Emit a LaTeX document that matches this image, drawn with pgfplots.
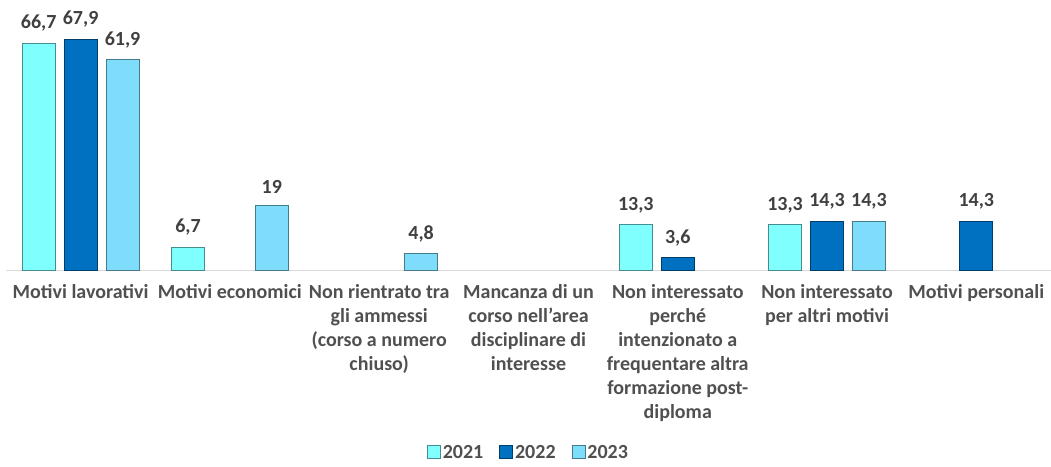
\documentclass[border=0pt]{standalone}
\usepackage{pgfplots}
\pgfplotsset{compat=1.18}
\usepackage{fontspec}
\setmainfont{Carlito}
\newfontfamily\cbold{Carlito Bold}
\definecolor{cA}{HTML}{80FFFF}
\definecolor{cB}{HTML}{0070C0}
\definecolor{cC}{HTML}{7DDDFA}
\definecolor{txt}{HTML}{404040}
\definecolor{lbl}{HTML}{505050}
\pgfplotstableread{
x y
-0.281 66.7
0.719 6.7
3.719 13.3
4.719 13.3
}\tA
\pgfplotstableread{
x y
0 67.9
4 3.6
5 14.3
6 14.3
}\tB
\pgfplotstableread{
x y
0.281 61.9
1.281 19
2.281 4.8
5.281 14.3
}\tC
\begin{document}
\begin{tikzpicture}
\useasboundingbox (0,0) rectangle (1051pt,466pt);
\begin{axis}[
  at={(6pt,196pt)}, anchor=south west,
  scale only axis, width=1045pt, height=270pt,
  ymin=0, ymax=79.4, xmin=-0.5, xmax=6.5,
  ybar, bar width=0.221, bar shift=0pt,
  axis x line*=bottom, axis y line=none,
  x axis line style={draw=black!15, line width=1pt, -},
  xtick={0,...,6}, xtick style={draw=none},
  xticklabels={
    Motivi lavorativi,
    Motivi economici,
    {Non rientrato tra\\gli ammessi\\(corso a numero\\chiuso)},
    {Mancanza di un\\corso nell’area\\disciplinare di\\interesse},
    {Non interessato\\perché\\intenzionato a\\frequentare altra\\formazione post-\\diploma},
    {Non interessato\\per altri motivi},
    Motivi personali},
  xticklabel style={align=center, text=lbl, font=\cbold\fontsize{20}{24}\selectfont, anchor=north, yshift=-7pt},
  nodes near coords,
  nodes near coords style={text=txt, font=\cbold\fontsize{20}{24}\selectfont, yshift=8pt},
  /pgf/number format/fixed, /pgf/number format/precision=1, /pgf/number format/use comma,
  /pgf/number format/assume math mode=true,
  legend style={at={(0.5,-0.675)}, anchor=center, draw=none, legend columns=3,
    font=\cbold\fontsize{20}{24}\selectfont, text=lbl,
    /tikz/every even column/.append style={column sep=14pt}},
  legend image code/.code={\fill[#1] (0pt,-6pt) rectangle (13pt,7pt);},
  clip=false,
]
\addplot[fill=cA, draw=cA!55!black, line width=0.8pt] table[x=x,y=y]{\tA};
\addplot[fill=cB, draw=cB!55!black, line width=0.8pt] table[x=x,y=y]{\tB};
\addplot[fill=cC, draw=cC!55!black, line width=0.8pt] table[x=x,y=y]{\tC};
\legend{2021,2022,2023}
\end{axis}
\end{tikzpicture}
\end{document}
